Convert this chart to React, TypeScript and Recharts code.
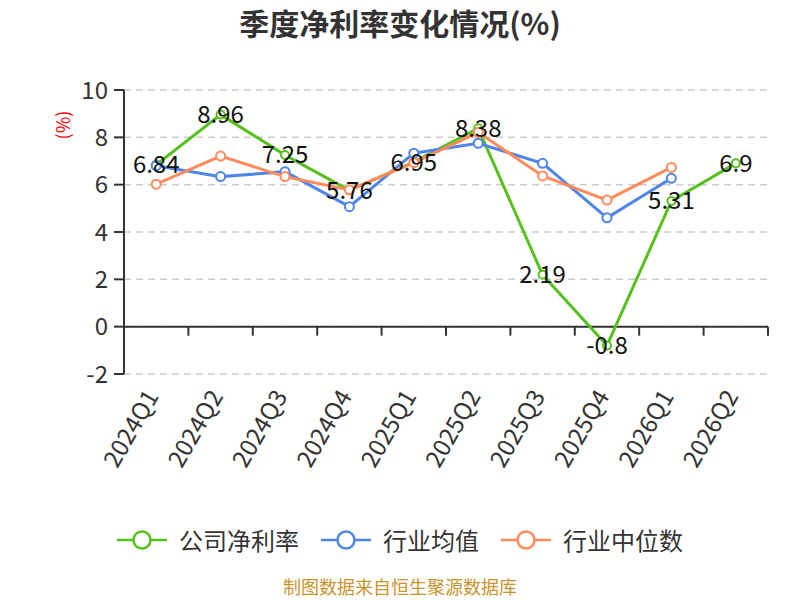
import { LineChart, Line, XAxis, YAxis, CartesianGrid, ReferenceLine } from "recharts";

const quarters = [
  "2024Q1", "2024Q2", "2024Q3", "2024Q4", "2025Q1",
  "2025Q2", "2025Q3", "2025Q4", "2026Q1", "2026Q2",
];
const companyMargin = [6.84, 8.96, 7.25, 5.76, 6.95, 8.38, 2.19, -0.8, 5.31, 6.9];
const industryAvg = [6.8, 6.34, 6.55, 5.07, 7.33, 7.75, 6.9, 4.6, 6.27, null];
const industryMedian = [6.02, 7.21, 6.34, 5.78, 6.93, 8.21, 6.37, 5.35, 6.73, null];
const yTicks = [-2, 0, 2, 4, 6, 8, 10];

const GREEN = "#56c11c";
const BLUE = "#4e86e8";
const ORANGE = "#ff8a5b";
const FONT = '"Noto Sans CJK SC", "Noto Sans", sans-serif';

const data = quarters.map((q, i) => ({
  q,
  company: companyMargin[i],
  avg: industryAvg[i],
  median: industryMedian[i],
}));

const legendItems = [
  { name: "公司净利率", color: GREEN },
  { name: "行业均值", color: BLUE },
  { name: "行业中位数", color: ORANGE },
];

function QuarterTick({ x, y, payload }: any) {
  return (
    <g transform={`translate(${x - 4},${y + 10})`}>
      <text
        transform="rotate(-60)"
        textAnchor="end"
        dy="0.35em"
        fontSize={24}
        fill="#333"
        fontFamily={FONT}
      >
        {payload.value}
      </text>
    </g>
  );
}

function ZeroAxis(p: any) {
  const { x1, y1, x2 } = p;
  const n = quarters.length;
  const marks = Array.from({ length: n + 1 }, (_, i) => x1 + ((x2 - x1) * i) / n);
  return (
    <g>
      <line x1={x1} y1={y1} x2={x2} y2={y1} stroke="#333" strokeWidth={2} />
      {marks.map((mx, i) => (
        <line key={i} x1={mx} y1={y1} x2={mx} y2={y1 + 9} stroke="#333" strokeWidth={2} />
      ))}
    </g>
  );
}

function PointLabel({ x, y, value }: any) {
  if (value == null) return null;
  return (
    <text
      x={x}
      y={y}
      dy="0.35em"
      textAnchor="middle"
      fontSize={24}
      fill="#111"
      fontFamily={FONT}
    >
      {value}
    </text>
  );
}

export default function App() {
  return (
    <div
      style={{
        position: "absolute",
        left: 0,
        top: 0,
        width: 800,
        height: 600,
        background: "#fff",
        fontFamily: FONT,
      }}
    >
      <div
        style={{
          position: "absolute",
          top: 3,
          left: 0,
          width: 800,
          textAlign: "center",
          fontSize: 30,
          fontWeight: "bold",
          color: "#333",
          lineHeight: "38px",
        }}
      >
        季度净利率变化情况(%)
      </div>
      <div
        style={{
          position: "absolute",
          left: 62,
          top: 125,
          transform: "translate(-50%, -50%) rotate(-90deg)",
          fontSize: 18,
          color: "#f00",
          whiteSpace: "nowrap",
        }}
      >
        (%)
      </div>

      <LineChart
        width={800}
        height={600}
        data={data}
        margin={{ top: 90, right: 32, bottom: 126, left: 0 }}
      >
        <CartesianGrid vertical={false} stroke="#ccc" strokeDasharray="7 5" strokeWidth={1.5} />
        <XAxis
          dataKey="q"
          scale="band"
          interval={0}
          axisLine={false}
          tickLine={false}
          height={100}
          tick={<QuarterTick />}
        />
        <YAxis
          domain={[-2, 10]}
          ticks={yTicks}
          width={124}
          axisLine={{ stroke: "#333", strokeWidth: 2 }}
          tickLine={{ stroke: "#333", strokeWidth: 2 }}
          tickSize={10}
          tickMargin={6}
          tick={{ fontSize: 24, fill: "#333", fontFamily: FONT }}
        />
        <ReferenceLine y={0} shape={ZeroAxis} />
        <Line
          dataKey="company"
          stroke={GREEN}
          strokeWidth={3}
          dot={{ r: 4, fill: "#fff", stroke: GREEN, strokeWidth: 2 }}
          activeDot={false}
          isAnimationActive={false}
        />
        <Line
          dataKey="avg"
          stroke={BLUE}
          strokeWidth={3}
          dot={{ r: 4.5, fill: "#fff", stroke: BLUE, strokeWidth: 2 }}
          activeDot={false}
          isAnimationActive={false}
        />
        <Line
          dataKey="median"
          stroke={ORANGE}
          strokeWidth={3}
          dot={{ r: 4.5, fill: "#fff", stroke: ORANGE, strokeWidth: 2 }}
          activeDot={false}
          isAnimationActive={false}
        />
        <Line
          dataKey="company"
          stroke="none"
          dot={false}
          activeDot={false}
          isAnimationActive={false}
          label={<PointLabel />}
        />
      </LineChart>

      <div
        style={{
          position: "absolute",
          top: 522,
          left: 0,
          width: 800,
          display: "flex",
          justifyContent: "center",
          alignItems: "center",
          fontSize: 24,
          color: "#333",
          lineHeight: "36px",
        }}
      >
        {legendItems.map((item, i) => (
          <div
            key={item.name}
            style={{ display: "flex", alignItems: "center", marginLeft: i === 0 ? 0 : 22 }}
          >
            <svg width={50} height={20} style={{ marginRight: 12 }}>
              <line x1={0} y1={10} x2={50} y2={10} stroke={item.color} strokeWidth={2.5} />
              <circle cx={25} cy={10} r={8.5} fill="#fff" stroke={item.color} strokeWidth={2.5} />
            </svg>
            <span>{item.name}</span>
          </div>
        ))}
      </div>

      <div
        style={{
          position: "absolute",
          top: 574,
          left: 0,
          width: 800,
          textAlign: "center",
          fontSize: 18,
          color: "#c9952a",
          lineHeight: "24px",
        }}
      >
        制图数据来自恒生聚源数据库
      </div>
    </div>
  );
}
